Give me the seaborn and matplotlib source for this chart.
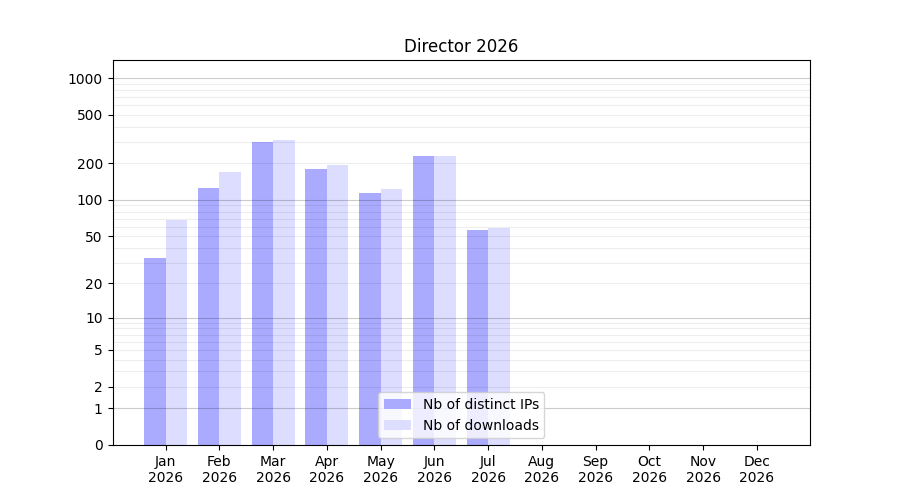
import numpy as np
import pandas as pd
import matplotlib
matplotlib.use("Agg")
import matplotlib.pyplot as plt
import seaborn as sns

months = ["Jan", "Feb", "Mar", "Apr", "May", "Jun",
          "Jul", "Aug", "Sep", "Oct", "Nov", "Dec"]
year = "2026"
distinct_ips = [33, 125, 299, 180, 114, 230, 56, 0, 0, 0, 0, 0]
downloads = [68, 170, 311, 194, 123, 231, 58, 0, 0, 0, 0, 0]
series_names = ["Nb of distinct IPs", "Nb of downloads"]
series_colors = ["#aaaaff", "#ddddff"]

labeled_ticks = [0, 1, 2, 5, 10, 20, 50, 100, 200, 500, 1000]
strong_grid = [1, 10, 100, 1000]
minor_ticks = [3, 4, 6, 7, 8, 9, 30, 40, 60, 70, 80, 90,
               300, 400, 600, 700, 800, 900]

df = pd.concat([
    pd.DataFrame({"month": months, "value": distinct_ips, "series": series_names[0]}),
    pd.DataFrame({"month": months, "value": downloads, "series": series_names[1]}),
])


def fwd(y):
    return np.log10(np.clip(y, 0, None) + 1)


def inv(y):
    return 10 ** y - 1


fig, ax = plt.subplots(figsize=(9, 5), dpi=100)
sns.barplot(data=df, x="month", y="value", hue="series", order=months,
            palette=dict(zip(series_names, series_colors)), saturation=1,
            errorbar=None, width=0.8, linewidth=0, ax=ax)

ax.set_yscale("function", functions=(fwd, inv))
ax.set_ylim(0, inv(3.148))
ax.set_xlim(-0.99, 11.99)

ax.set_yticks(labeled_ticks)
ax.set_yticklabels([str(v) for v in labeled_ticks])
ax.set_yticks(minor_ticks, minor=True)
ax.tick_params(axis="y", which="minor", length=0)

ax.set_xticks(range(len(months)))
ax.set_xticklabels([m + "\n" + year for m in months])

ax.set_axisbelow(False)
ax.yaxis.grid(True, which="both")
ax.xaxis.grid(False)
for tick, val in zip(ax.yaxis.get_major_ticks(), labeled_ticks):
    gl = tick.gridline
    if val in strong_grid:
        gl.set_color("black")
        gl.set_alpha(0.2)
    else:
        gl.set_color("black")
        gl.set_alpha(0.07)
    gl.set_linewidth(0.8)
for tick in ax.yaxis.get_minor_ticks():
    tick.gridline.set_color("black")
    tick.gridline.set_alpha(0.07)
    tick.gridline.set_linewidth(0.8)

ax.set_xlabel("")
ax.set_ylabel("")
ax.set_title("Director " + year)
ax.legend(loc="lower center")

fig.savefig("out.png", dpi=100)
